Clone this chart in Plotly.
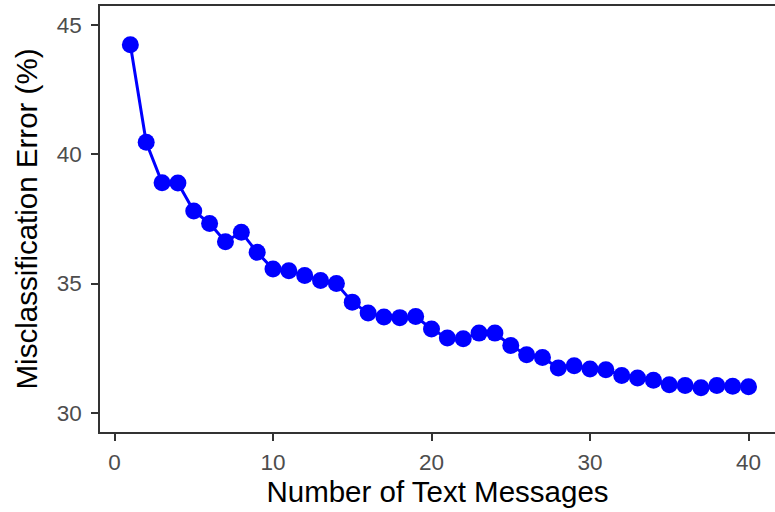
import plotly.graph_objects as go

n_messages = list(range(1, 41))
error_pct = [44.25, 40.47, 38.90, 38.89, 37.81, 37.33, 36.62, 36.99, 36.21, 35.56,
             35.50, 35.31, 35.12, 35.00, 34.28, 33.86, 33.70, 33.68, 33.72, 33.24,
             32.89, 32.86, 33.08, 33.08, 32.60, 32.24, 32.14, 31.73, 31.82, 31.69,
             31.66, 31.44, 31.34, 31.25, 31.08, 31.05, 30.96, 31.05, 31.02, 31.00]
x_ticks = [0, 10, 20, 30, 40]
y_ticks = [30, 35, 40, 45]

fig = go.Figure(go.Scatter(
    x=n_messages, y=error_pct, mode="lines+markers",
    line=dict(color="#0000FF", width=3),
    marker=dict(color="#0000FF", size=17),
    cliponaxis=False,
))

font = "Liberation Sans, Arial, Helvetica, sans-serif"
fig.update_layout(
    width=775, height=512,
    margin=dict(l=100, r=0, t=6, b=80),
    paper_bgcolor="white", plot_bgcolor="white",
    showlegend=False,
    font=dict(family=font),
)
fig.update_xaxes(
    range=[-0.915, 41.67], tickvals=x_ticks, showgrid=False, zeroline=False,
    automargin=False,
    showline=True, linecolor="#333333", linewidth=1.5, mirror=True,
    ticks="outside", ticklen=7, tickwidth=2, tickcolor="#333333",
    ticklabelstandoff=2,
    tickfont=dict(size=22.5, color="#4D4D4D", family=font),
    title=dict(text="Number of Text Messages", font=dict(size=29.5, color="black", family=font), standoff=2),
)
fig.update_yaxes(
    range=[29.25, 45.75], tickvals=y_ticks, showgrid=False, zeroline=False,
    automargin=False,
    showline=True, linecolor="#333333", linewidth=1.5, mirror=False,
    ticks="outside", ticklen=7, tickwidth=2, tickcolor="#333333",
    ticklabelstandoff=5,
    tickfont=dict(size=22.5, color="#4D4D4D", family=font),
    title=dict(text="Misclassification Error (%)", font=dict(size=29.5, color="black", family=font), standoff=10),
)
fig.write_html("out.html", config={"displayModeBar": False},
               post_script="document.body.style.margin='0px';document.body.style.overflow='hidden';")
